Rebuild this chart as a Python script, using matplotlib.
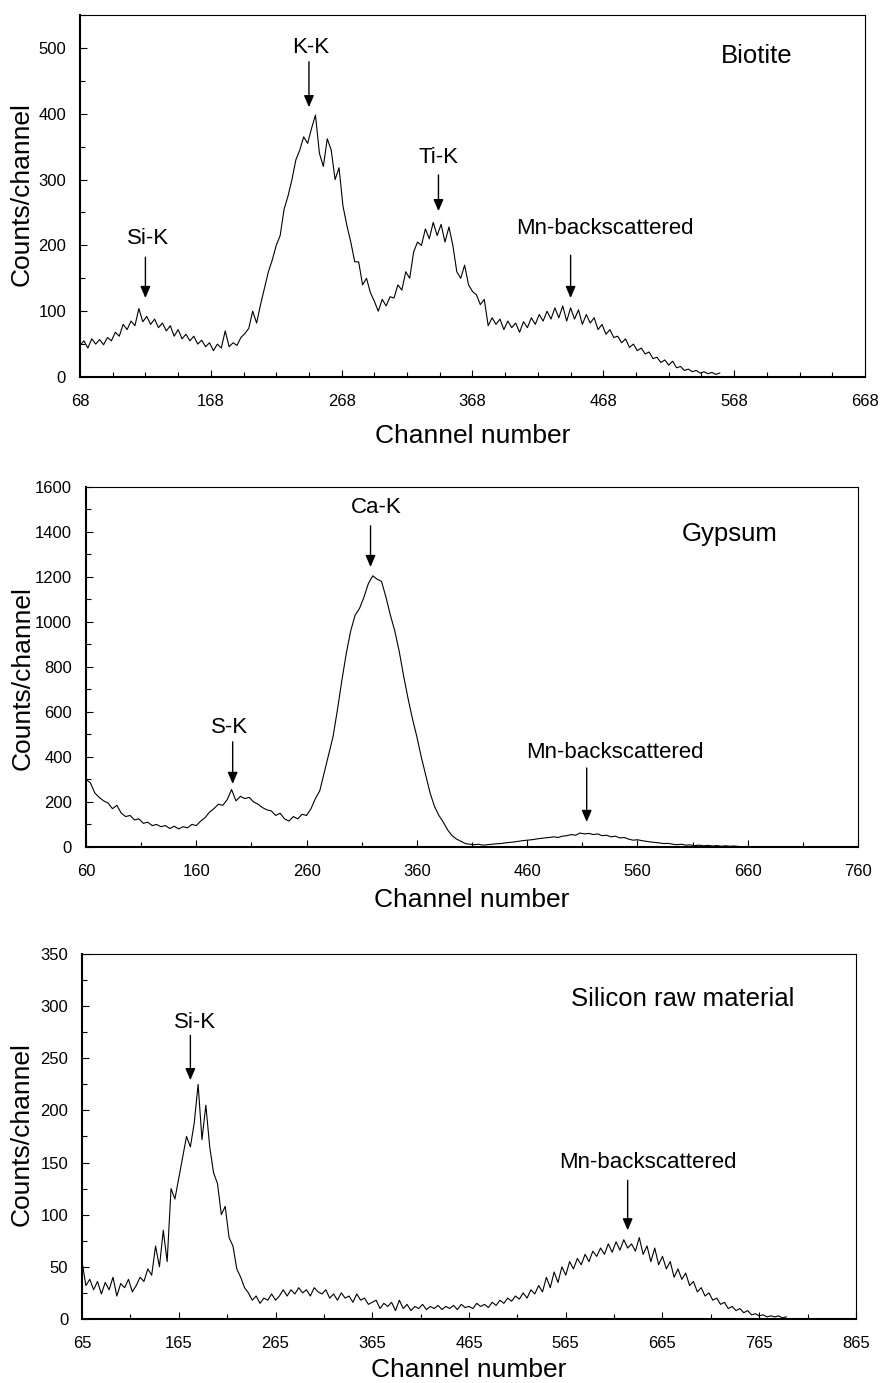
import numpy as np
import matplotlib
matplotlib.use("Agg")
import matplotlib.pyplot as plt
from matplotlib.ticker import MultipleLocator, FixedLocator

plt.rcParams['font.family'] = ['Liberation Sans', 'DejaVu Sans']

# Biotite spectrum, every 3rd channel from 68
bio_ch = np.arange(68, 558, 3)
bio_counts = [
    48, 55, 44, 58, 50, 57, 49, 60, 55, 68,
    62, 80, 72, 85, 78, 104, 84, 92, 80, 88,
    75, 82, 70, 78, 62, 72, 58, 65, 55, 62,
    50, 56, 46, 52, 40, 50, 44, 70, 46, 52,
    48, 60, 66, 74, 100, 82, 110, 135, 160, 178,
    200, 215, 255, 275, 300, 330, 345, 365, 355, 378,
    398, 340, 320, 362, 345, 300, 318, 260, 230, 205,
    175, 175, 140, 150, 128, 115, 100, 118, 108, 122,
    120, 140, 132, 160, 150, 190, 205, 200, 225, 210,
    235, 215, 232, 205, 228, 200, 160, 150, 170, 140,
    130, 125, 110, 118, 78, 90, 80, 88, 72, 85,
    75, 82, 68, 84, 75, 90, 80, 95, 85, 100,
    88, 105, 90, 108, 85, 105, 88, 102, 80, 95,
    82, 90, 72, 80, 65, 72, 60, 62, 52, 58,
    45, 50, 40, 44, 35, 38, 28, 30, 22, 26,
    18, 24, 14, 16, 10, 12, 8, 10, 6, 8,
    5, 7, 4, 6,
]

# Gypsum spectrum, every 4th channel from 60
gyp_ch = np.arange(60, 653, 4)
gyp_counts = [
    300, 285, 240, 220, 205, 195, 170, 185, 150, 135,
    140, 120, 125, 105, 110, 95, 100, 90, 95, 82,
    92, 80, 90, 85, 100, 95, 115, 130, 155, 170,
    190, 185, 210, 255, 205, 225, 215, 220, 200, 190,
    175, 165, 160, 140, 150, 125, 115, 135, 125, 145,
    140, 170, 215, 250, 330, 410, 490, 610, 740, 860,
    960, 1030, 1060, 1110, 1170, 1205, 1190, 1180, 1110, 1030,
    960, 870, 760, 660, 570, 490, 400, 320, 240, 180,
    140, 110, 75, 50, 35, 25, 15, 12, 10, 12,
    8, 10, 12, 14, 15, 18, 20, 22, 25, 28,
    30, 32, 35, 38, 40, 42, 45, 42, 48, 50,
    55, 52, 62, 58, 60, 55, 58, 50, 52, 45,
    48, 40, 42, 35, 30, 32, 28, 25, 22, 20,
    18, 15, 16, 12, 10, 12, 8, 9, 6, 8,
    5, 7, 4, 6, 3, 5, 3, 4, 2,
]

# Silicon raw material spectrum, every 4th channel from 65
si_ch = np.arange(65, 794, 4)
si_counts = [
    55, 32, 38, 28, 36, 24, 35, 28, 40, 22,
    34, 30, 38, 26, 32, 40, 36, 48, 42, 70,
    50, 85, 55, 125, 115, 135, 155, 175, 165, 188,
    225, 172, 205, 165, 140, 130, 100, 108, 78, 70,
    48, 40, 30, 25, 18, 22, 15, 20, 18, 24,
    18, 22, 28, 22, 28, 24, 30, 25, 28, 22,
    30, 26, 24, 28, 20, 24, 18, 25, 20, 22,
    16, 24, 18, 20, 14, 16, 18, 10, 15, 12,
    16, 8, 18, 10, 14, 8, 12, 10, 14, 9,
    12, 10, 13, 9, 12, 10, 13, 9, 14, 11,
    12, 10, 15, 12, 14, 11, 16, 13, 18, 15,
    20, 17, 22, 19, 25, 20, 28, 24, 32, 26,
    40, 30, 45, 35, 50, 42, 55, 48, 58, 52,
    62, 55, 65, 60, 68, 62, 72, 64, 74, 66,
    76, 68, 72, 65, 78, 62, 70, 55, 68, 52,
    60, 48, 55, 40, 48, 38, 44, 32, 36, 26,
    30, 22, 25, 18, 20, 14, 16, 10, 12, 8,
    10, 6, 8, 4, 5, 3, 4, 2, 3, 2,
    3, 1, 2,
]

panels = [
    dict(rect=[0.0908, 0.7274, 0.891, 0.2617], x=bio_ch, y=bio_counts,
         xlim=(68, 668), xmaj=100, xmin=25, ylim=(0, 550), ymaj=100, ymin=50,
         name="Biotite", name_xy=(585, 488),
         peaks=[("Si-K", (120, 211), 118, 182, 120),
                ("K-K", (244, 500), 243, 479, 410),
                ("Ti-K", (342, 333), 342, 307, 252),
                ("Mn-backscattered", (469, 225), 443, 185, 120)],
         ylab=(-0.074, 0.505), xlab=(0.5, -0.163)),
    dict(rect=[0.0976, 0.3876, 0.8763, 0.2603], x=gyp_ch, y=gyp_counts,
         xlim=(60, 760), xmaj=100, xmin=50, ylim=(0, 1600), ymaj=200, ymin=100,
         name="Gypsum", name_xy=(644, 1391),
         peaks=[("S-K", (190, 533), 193, 467, 280),
                ("Ca-K", (323, 1507), 318, 1427, 1244),
                ("Mn-backscattered", (540, 418), 514, 351, 111)],
         ylab=(-0.082, 0.47), xlab=(0.5, -0.147)),
    dict(rect=[0.0931, 0.0463, 0.8785, 0.2639], x=si_ch, y=si_counts,
         xlim=(65, 865), xmaj=100, xmin=50, ylim=(0, 350), ymaj=50, ymin=25,
         name="Silicon raw material", name_xy=(686, 307),
         peaks=[("Si-K", (182, 284), 177, 272, 229),
                ("Mn-backscattered", (650, 150), 629, 133, 85)],
         ylab=(-0.0775, 0.507), xlab=(0.5, -0.14)),
]

fig = plt.figure(figsize=(8.81, 13.83), dpi=100)

for p in panels:
    ax = fig.add_axes(p['rect'])
    ax.plot(p['x'], p['y'], color='black', linewidth=0.8)

    ax.set_xlim(*p['xlim'])
    ax.set_ylim(*p['ylim'])
    ax.xaxis.set_major_locator(FixedLocator(np.arange(p['xlim'][0], p['xlim'][1] + 1, p['xmaj'])))
    ax.xaxis.set_minor_locator(FixedLocator(np.arange(p['xlim'][0], p['xlim'][1] + 1, p['xmin'])))
    ax.yaxis.set_major_locator(MultipleLocator(p['ymaj']))
    ax.yaxis.set_minor_locator(MultipleLocator(p['ymin']))
    ytk = np.arange(0, p['ylim'][1] + 1, p['ymaj'])
    ax.set_yticks(ytk)
    ax.set_yticklabels([str(int(v)) for v in ytk])

    ax.tick_params(which='both', direction='in', width=0.8, labelsize=12)
    ax.tick_params(which='major', length=5)
    ax.tick_params(which='minor', length=3.5)
    ax.tick_params(axis='x', pad=12)
    ax.tick_params(axis='y', pad=10)

    ax.spines['left'].set_linewidth(1.5)
    ax.spines['bottom'].set_linewidth(1.5)
    ax.spines['top'].set_linewidth(0.8)
    ax.spines['right'].set_linewidth(0.8)

    ax.set_xlabel("Channel number", fontsize=19)
    ax.set_ylabel("Counts/channel", fontsize=19)
    ax.xaxis.set_label_coords(*p['xlab'])
    ax.xaxis.label.set_va('center')
    ax.yaxis.set_label_coords(*p['ylab'])
    ax.yaxis.label.set_va('center')

    ax.text(p['name_xy'][0], p['name_xy'][1], p['name'], fontsize=18.5,
            ha='center', va='center')

    for label, txy, ax_x, y0, y1 in p['peaks']:
        ax.text(txy[0], txy[1], label, fontsize=16, ha='center', va='center')
        ax.annotate('', xy=(ax_x, y1), xytext=(ax_x, y0),
                    arrowprops=dict(arrowstyle='-|>,head_length=0.7,head_width=0.3',
                                    mutation_scale=10, color='black', lw=1,
                                    shrinkA=0, shrinkB=0))

fig.savefig("out.png", dpi=100)
